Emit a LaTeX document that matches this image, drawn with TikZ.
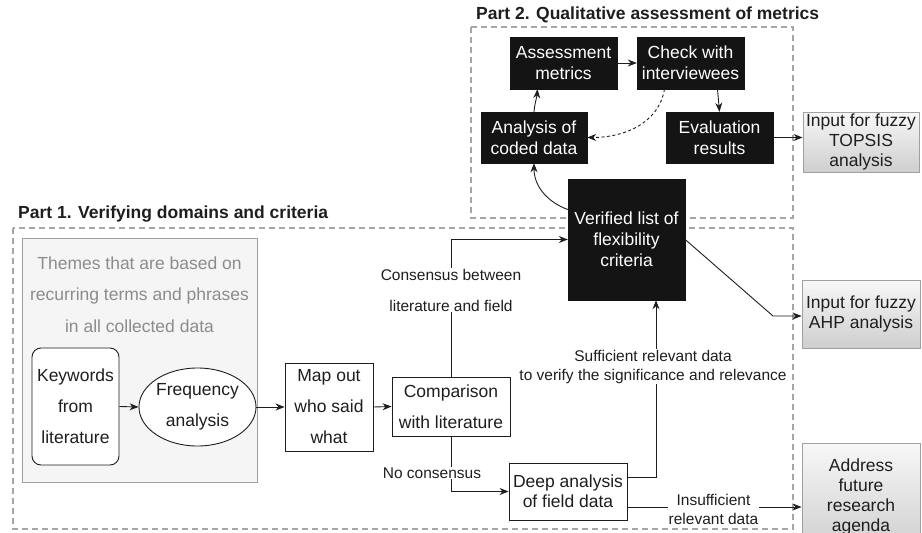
\documentclass[tikz,border=0pt]{standalone}
\usepackage{fontspec}
\setmainfont{Liberation Sans}
\usetikzlibrary{arrows.meta,shapes.geometric,calc}
\definecolor{boxblack}{HTML}{141414}
\definecolor{dashgray}{HTML}{A6A6A6}
\definecolor{txt}{HTML}{1E1E1E}
\definecolor{themefill}{HTML}{F5F5F5}
\definecolor{themeline}{HTML}{A0A0A0}
\definecolor{themetext}{HTML}{8C8C8C}
\tikzset{
 arr/.style={-{Stealth[length=9pt,width=7pt]}, line width=0.9pt, draw=txt},
 blackbox/.style={draw=boxblack, fill=boxblack, text=white, align=center, inner sep=0pt, font=\fontsize{17.5}{21}\selectfont},
 whitebox/.style={draw=txt, fill=white, line width=0.9pt, align=center, inner sep=0pt, font=\fontsize{17.5}{31}\selectfont, text=txt},
 outbox/.style={draw=themeline, line width=0.9pt, top color=gray!6, bottom color=gray!38, align=center, inner sep=0pt, font=\fontsize{17.5}{20}\selectfont, text=txt},
 partbox/.style={draw=dashgray, dash pattern=on 6pt off 4pt, line width=1.1pt},
 lbl/.style={fill=white, align=center, inner sep=1pt, text=txt, font=\fontsize{15.5}{19}\selectfont},
 lblwide/.style={fill=white, align=center, inner sep=1pt, text=txt, font=\fontsize{15.5}{31}\selectfont},
 parttitle/.style={anchor=west, font=\bfseries\fontsize{17.5}{21}\selectfont, text=txt, inner sep=0pt},
}
\begin{document}
\begin{tikzpicture}[x=1pt,y=-1pt]
\useasboundingbox (0,0) rectangle (922,533);
% part frames
\draw[partbox] (471,27) rectangle (793,218);
\draw[partbox] (13,228) rectangle (793,529);
\node[parttitle] (t2) at (476,15) {Part 2. Qualitative assessment of metrics};
\node[parttitle] (t1) at (18,214) {Part 1. Verifying domains and criteria};
% themes area
\node[draw=themeline, fill=themefill, line width=0.9pt, minimum width=235, minimum height=244, inner sep=0pt] (themes) at (139.5,360) {};
\node[text=themetext, align=center, inner sep=0pt, font=\fontsize{17.5}{31.5}\selectfont] (themetxt) at (139.5,294.5) {Themes that are based on\\recurring terms and phrases\\in all collected data};
% part 1 nodes
\node[whitebox, rounded corners=9pt, minimum width=87, minimum height=117] (kw) at (75.5,406.5) {Keywords\\from\\literature};
\node[whitebox, ellipse, minimum width=117, minimum height=78] (freq) at (197.5,407) {Frequency\\analysis};
\node[whitebox, minimum width=88, minimum height=88] (map) at (329,407) {Map out\\who said\\what};
\node[whitebox, minimum width=118, minimum height=59] (comp) at (451,406.5) {Comparison\\with literature};
\node[whitebox, font=\fontsize{17.5}{20}\selectfont, minimum width=118, minimum height=57] (deep) at (568,491.5) {Deep analysis\\of field data};
% part 2 nodes
\node[blackbox, minimum width=107, minimum height=52] (assess) at (563.5,63) {Assessment\\metrics};
\node[blackbox, minimum width=107, minimum height=52] (check) at (690.5,63) {Check with\\interviewees};
\node[blackbox, minimum width=106, minimum height=51] (coded) at (534,137.5) {Analysis of\\coded data};
\node[blackbox, minimum width=107, minimum height=51] (evalr) at (719.5,137.5) {Evaluation\\results};
\node[blackbox, minimum width=117, minimum height=121] (verified) at (626.5,239.5) {Verified list of\\flexibility\\criteria};
% outputs
\node[outbox, minimum width=116, minimum height=60] (topsis) at (861,142) {Input for fuzzy\\TOPSIS\\analysis};
\node[outbox, minimum width=118, minimum height=68] (ahp) at (861,314) {Input for fuzzy\\AHP analysis};
\node[outbox, minimum width=118, minimum height=108] (address) at (861,497) {Address\\future\\research\\agenda};
% part 1 connectors
\draw[arr] (kw.east) -- (freq.west);
\draw[arr] (freq.east) -- (map.west);
\draw[arr] (map.east) -- (comp.west);
\draw[arr] (comp.north) |- (verified.west);
\node[lblwide] (lblcons) at (451,290) {Consensus between\\literature and field};
\draw[arr] (comp.south) |- (deep.west);
\node[lbl] (lblno) at (432,473) {No consensus};
\coordinate (sufx) at ($(verified.south)+(29.5,0)$);
\coordinate (deepup) at ($(deep.east)+(0,-14)$);
\draw[arr] (deepup) -| (sufx);
\node[lbl] (lblsuf) at (653,366.5) {Sufficient relevant data\\to verify the significance and relevance};
\coordinate (deeplow) at ($(deep.east)+(0,15.5)$);
\coordinate (addin) at (deeplow -| address.west);
\draw[arr] (deeplow) -- (addin);
\node[lbl] (lblins) at (713.5,509.5) {Insufficient\\relevant data};
\coordinate (bend) at (773,316);
\draw[arr] (verified.east) -- (bend) -- (bend -| ahp.west);
% part 2 connectors
\coordinate (vcurve) at ($(verified.west)+(0,-30)$);
\draw[arr] (vcurve) to[out=160,in=-90] (coded.south);
\coordinate (assin) at ($(assess.south)+(-26,0)$);
\draw[arr] (coded.north) to[out=85,in=-95] (assin);
\draw[arr] (assess.east) -- (check.west);
\coordinate (chkout) at ($(check.south)+(27,0)$);
\draw[arr] (chkout) to[out=-85,in=95] (evalr.north);
\coordinate (chkdash) at ($(check.south)+(-26,0)$);
\draw[arr, dash pattern=on 3pt off 2.5pt] (chkdash) to[out=-100,in=0] (coded.east);
\draw[arr] (evalr.east) -- (evalr.east -| topsis.west);
\end{tikzpicture}
\end{document}
